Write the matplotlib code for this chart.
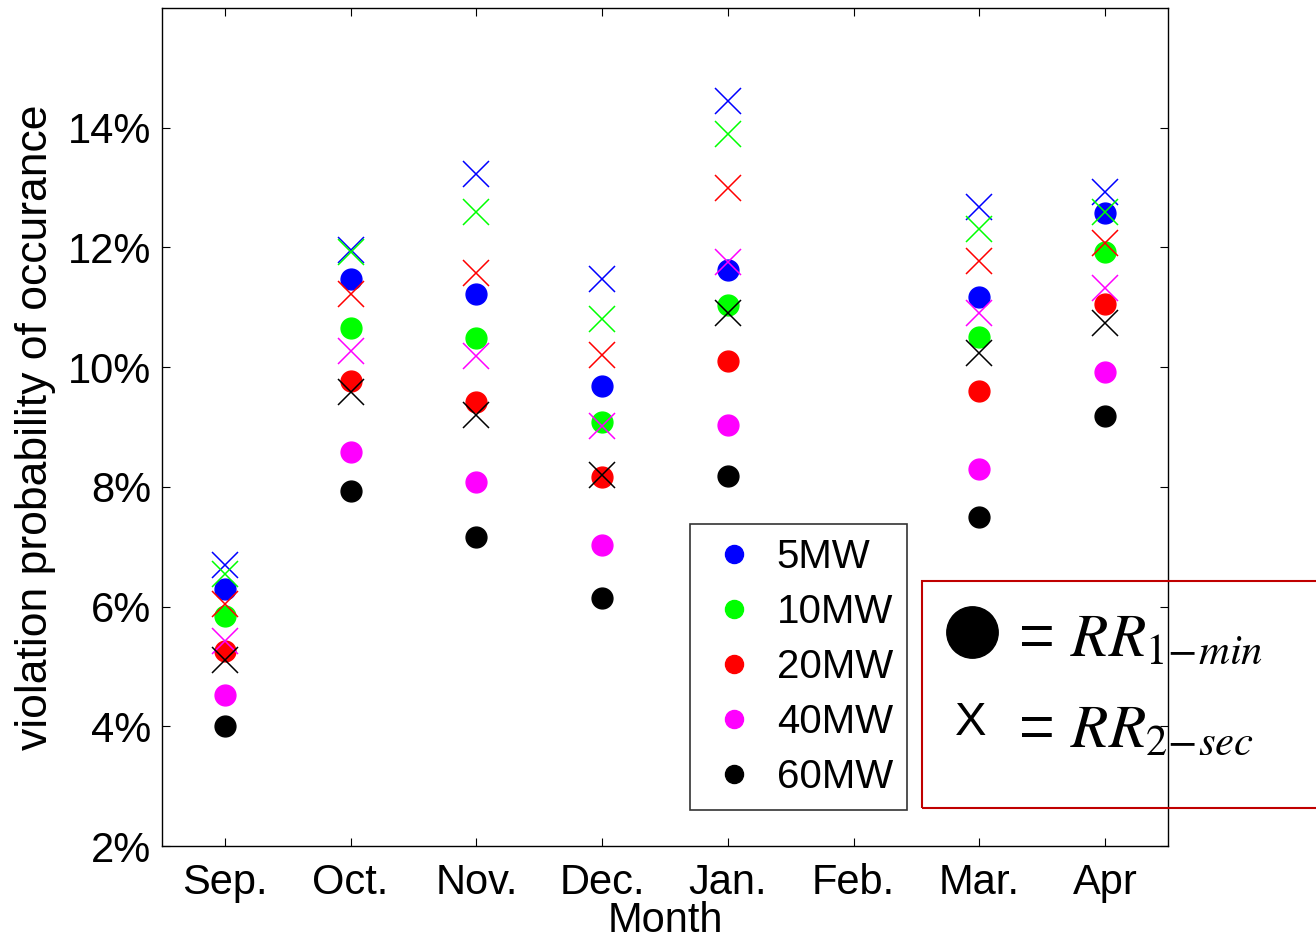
import numpy as np
import matplotlib
matplotlib.use('Agg')
import matplotlib.pyplot as plt
from matplotlib.lines import Line2D
from matplotlib.patches import Rectangle

plt.rcParams['font.family'] = ['Liberation Sans', 'DejaVu Sans']
plt.rcParams['mathtext.fontset'] = 'stix'

months = ['Sep.', 'Oct.', 'Nov.', 'Dec.', 'Jan.', 'Feb.', 'Mar.', 'Apr']
nan = np.nan

# violation probability (%) with RR 1-min (circles)
rr1min_5 = [6.30, 11.48, 11.22, 9.68, 11.62, nan, 11.17, 12.57]
rr1min_10 = [5.85, 10.65, 10.48, 9.08, 11.03, nan, 10.50, 11.93]
rr1min_20 = [5.25, 9.77, 9.42, 8.17, 10.10, nan, 9.60, 11.05]
rr1min_40 = [4.52, 8.58, 8.08, 7.03, 9.03, nan, 8.30, 9.92]
rr1min_60 = [4.00, 7.93, 7.17, 6.15, 8.18, nan, 7.50, 9.18]

# violation probability (%) with RR 2-sec (crosses)
rr2sec_5 = [6.70, 11.95, 13.22, 11.47, 14.45, nan, 12.68, 12.93]
rr2sec_10 = [6.55, 11.93, 12.60, 10.80, 13.90, nan, 12.30, 12.60]
rr2sec_20 = [6.05, 11.22, 11.57, 10.20, 13.00, nan, 11.78, 12.08]
rr2sec_40 = [5.43, 10.27, 10.18, 9.02, 11.75, nan, 10.90, 11.33]
rr2sec_60 = [5.10, 9.58, 9.20, 8.20, 10.90, nan, 10.23, 10.73]

labels = ['5MW', '10MW', '20MW', '40MW', '60MW']
colors = ['#0000ff', '#00ff00', '#ff0000', '#ff00ff', '#000000']
circles = [rr1min_5, rr1min_10, rr1min_20, rr1min_40, rr1min_60]
crosses = [rr2sec_5, rr2sec_10, rr2sec_20, rr2sec_40, rr2sec_60]

fig = plt.figure(figsize=(13.16, 9.4), dpi=100)
ax = fig.add_axes([0.1231, 0.1, 0.7644, 0.8915])

x = np.arange(1, len(months) + 1)
for vals, c in zip(circles, colors):
    ax.plot(x, vals, 'o', color=c, markersize=15, linestyle='none')
for vals, c in zip(crosses, colors):
    ax.plot(x, vals, 'x', color=c, markersize=19, markeredgewidth=1.1, linestyle='none')

ax.set_xlim(0.5, 8.5)
ax.set_ylim(2, 16)
ax.set_xticks(x)
ax.set_xticklabels(months)
ax.set_yticks([2, 4, 6, 8, 10, 12, 14])
ax.set_yticklabels(['%d%%' % v for v in [2, 4, 6, 8, 10, 12, 14]])
ax.tick_params(direction='in', top=True, right=True, length=6, labelsize=30)
ax.tick_params(axis='x', pad=12)
ax.tick_params(axis='y', pad=8)
for s in ax.spines.values():
    s.set_linewidth(1.0)

ax.set_xlabel('Month', fontsize=30, labelpad=-1)
ax.set_ylabel('violation probability of occurance', fontsize=32, labelpad=8)

handles = [Line2D([], [], marker='o', color=c, linestyle='none', markersize=13) for c in colors]
leg = ax.legend(handles, labels, loc='upper left', bbox_to_anchor=(0.525, 0.384),
                fontsize=29, frameon=True, fancybox=False, edgecolor='black',
                handletextpad=0.3, labelspacing=0.42, borderpad=0.35, handlelength=1.5,
                borderaxespad=0)
leg.get_frame().set_linewidth(1.2)

# annotation box explaining the marker shapes
fig.add_artist(Rectangle((922 / 1316, 1 - 808 / 940), 0.4, 227 / 940,
                         transform=fig.transFigure, fill=False,
                         edgecolor='#c00000', linewidth=1.5, clip_on=False))
fig.add_artist(Line2D([972 / 1316], [1 - 632 / 940], marker='o', color='black',
                      markersize=37, transform=fig.transFigure))
fig.text(1018 / 1316, 1 - 640 / 940, r'= $RR_{1\!-\!min}$', fontsize=44,
         va='center', ha='left')
fig.text(955 / 1316, 1 - 723 / 940, 'X', fontsize=34, va='center', ha='left')
fig.text(1018 / 1316, 1 - 731 / 940, r'= $RR_{2\!-\!sec}$', fontsize=44,
         va='center', ha='left')

fig.savefig('out.png', dpi=100)
